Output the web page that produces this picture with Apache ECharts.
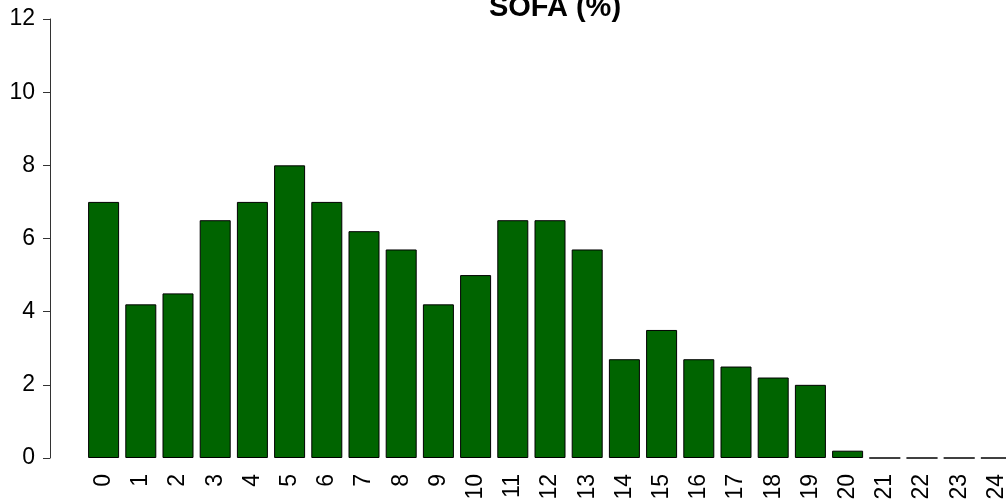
<!DOCTYPE html>
<html>
<head>
<meta charset="utf-8">
<script src="https://cdn.jsdelivr.net/npm/echarts@6/dist/echarts.min.js"></script>
<style>
  html, body { margin: 0; padding: 0; background: #fff; }
  #chart { width: 1006px; height: 499px; }
</style>
</head>
<body>
<div id="chart"></div>
<script>
// SOFA score categories and percentages
var sofaScores = ['0','1','2','3','4','5','6','7','8','9','10','11','12',
                  '13','14','15','16','17','18','19','20','21','22','23','24'];
var percentValues = [7.0, 4.2, 4.5, 6.5, 7.0, 8.0, 7.0, 6.2, 5.7, 4.2, 5.0, 6.5, 6.5,
                     5.7, 2.7, 3.5, 2.7, 2.5, 2.2, 2.0, 0.2, 0, 0, 0, 0];
var yTicks = [0, 2, 4, 6, 8, 10, 12];

var myChart = echarts.init(document.getElementById('chart'));

var option = {
  animation: false,
  title: {
    text: 'SOFA (%)',
    left: 550,
    textAlign: 'center',
    top: -12,
    textStyle: {
      fontFamily: 'Liberation Sans',
      fontWeight: 'bold',
      fontSize: 29,
      color: '#000'
    }
  },
  grid: {
    left: 85,
    right: -9,
    top: 19,
    bottom: 41,
    containLabel: false,
    outerBoundsMode: 'none'
  },
  xAxis: {
    type: 'category',
    data: sofaScores,
    axisLine: { show: false },
    axisTick: { show: false },
    axisLabel: {
      rotate: 90,
      margin: 16,
      interval: 0,
      fontFamily: 'Liberation Sans',
      fontSize: 23,
      color: '#000'
    }
  },
  yAxis: {
    type: 'value',
    min: yTicks[0],
    max: yTicks[yTicks.length - 1],
    interval: 2,
    offset: 35,
    splitLine: { show: false },
    axisLine: { show: true, lineStyle: { color: '#333', width: 1 } },
    axisTick: { show: true, length: 7, lineStyle: { color: '#333', width: 1 } },
    axisLabel: {
      margin: 15,
      fontFamily: 'Liberation Sans',
      fontSize: 23,
      color: '#000'
    }
  },
  series: [
    {
      name: 'SOFA',
      type: 'bar',
      data: percentValues,
      barWidth: 31,
      itemStyle: {
        color: '#006400',
        borderColor: '#000',
        borderWidth: 1
      }
    }
  ]
};

myChart.setOption(option);
</script>
</body>
</html>
